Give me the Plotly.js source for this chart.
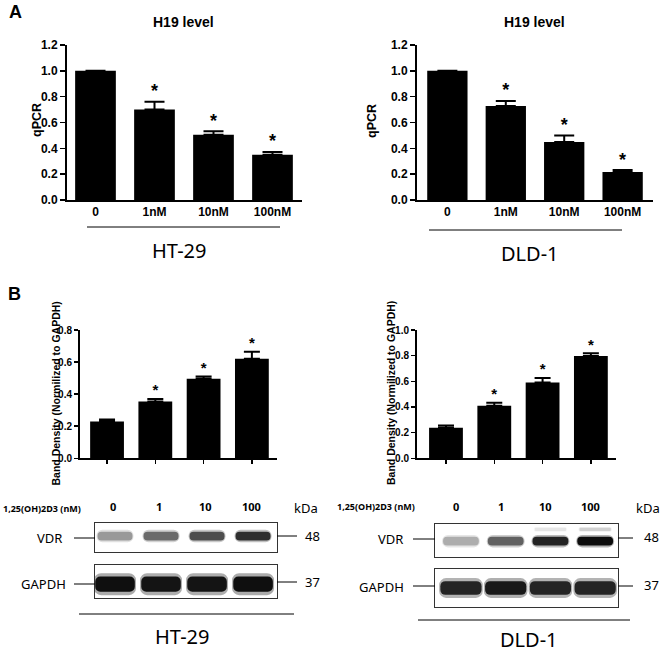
<!DOCTYPE html>
<html>
<head>
<meta charset="utf-8">
<script src="https://cdn.plot.ly/plotly-3.0.1.min.js"></script>
<style>html,body{margin:0;padding:0;background:#fff;}#chart{width:663px;height:652px;}</style>
</head>
<body>
<div id="chart"></div>
<script>
// ---------- data ----------
const doses = ['0', '1nM', '10nM', '100nM'];
const lanes = ['0', '1', '10', '100'];
const sig = ['', '*', '*', '*'];

const h19HT = [1.0, 0.70, 0.505, 0.35];
const h19HTerr = [NaN, 0.06, 0.027, 0.022];
const h19DLD = [1.0, 0.727, 0.449, 0.217];
const h19DLDerr = [NaN, 0.04, 0.05, 0.015];

const vdrHT = [0.229, 0.354, 0.496, 0.62];
const vdrHTerr = [0.013, 0.015, 0.014, 0.045];
const vdrDLD = [0.239, 0.41, 0.59, 0.797];
const vdrDLDerr = [0.016, 0.022, 0.035, 0.021];

// blot band darkness (0 = blank, 1 = black)
const bandVdrHT = [0.4, 0.58, 0.7, 0.82];
const bandGapdhHT = [0.94, 0.92, 0.92, 0.94];
const bandVdrDLD = [0.32, 0.62, 0.86, 0.95];
const bandVdrDLDupper = [0, 0, 0.1, 0.18];
const bandGapdhDLD = [0.86, 0.9, 0.86, 0.86];

// ---------- helpers ----------
const W = 663, H = 652;
const px = v => v / W;
const py = v => 1 - v / H;
const BOLD = {family: 'Liberation Sans, Arial, sans-serif', weight: 'bold', color: '#000'};
const SANS = {family: 'Noto Sans, sans-serif', color: '#000'};
const grey = d => { const g = Math.round(255 * (1 - d)); return `rgb(${g},${g},${g})`; };
const zeros = a => a.map(() => 0);

const traces = [];
function barSet(xa, ya, x, y, err, capW, starSize, barW) {
  traces.push({
    type: 'bar', x: x, y: y, xaxis: xa, yaxis: ya, width: barW,
    marker: {color: '#000', line: {width: 0}},
    error_y: {type: 'data', array: err, arrayminus: zeros(err), symmetric: false,
              color: '#000', thickness: 2, width: capW},
    hoverinfo: 'skip'
  });
  traces.push({
    type: 'scatter', mode: 'text', x: x, xaxis: xa, yaxis: ya,
    y: y.map((v, i) => v + (isNaN(err[i]) ? 0 : err[i])),
    text: sig, textposition: 'top center',
    textfont: Object.assign({}, BOLD, {size: starSize}),
    hoverinfo: 'skip', cliponaxis: false
  });
}
barSet('x', 'y', doses, h19HT, h19HTerr, 10, 18, 0.69);
barSet('x2', 'y2', doses, h19DLD, h19DLDerr, 10, 18, 0.69);
barSet('x3', 'y3', lanes, vdrHT, vdrHTerr, 8, 15, 0.70);
barSet('x4', 'y4', lanes, vdrDLD, vdrDLDerr, 8, 15, 0.70);

function bands(xa, ya, dark, center, thick, bw, halo) {
  const idx = lanes.map((_, i) => i);
  traces.push({
    type: 'bar', x: idx, xaxis: xa, yaxis: ya, width: bw * 1.06,
    y: dark.map(() => thick * 1.45), base: dark.map(() => center - thick * 0.725),
    marker: {color: dark.map(grey), opacity: halo, line: {width: 0}, cornerradius: 7},
    hoverinfo: 'skip'
  });
  traces.push({
    type: 'bar', x: idx, xaxis: xa, yaxis: ya, width: bw,
    y: dark.map(() => thick), base: dark.map(() => center - thick / 2),
    marker: {color: dark.map(grey), line: {width: 0}, cornerradius: 5},
    hoverinfo: 'skip'
  });
}
bands('x5', 'y5', bandVdrHT, 0.55, 0.3, 0.76, 0.3);
bands('x6', 'y6', bandGapdhHT, 0.42, 0.46, 0.86, 0.35);
bands('x7', 'y7', bandVdrDLD, 0.48, 0.26, 0.8, 0.3);
bands('x7', 'y7', bandVdrDLDupper, 0.84, 0.1, 0.7, 0.3);
bands('x8', 'y8', bandGapdhDLD, 0.5, 0.36, 0.92, 0.35);

// ---------- axes ----------
function xBar(d0, d1, r, labels, anchor) {
  return {domain: [px(d0), px(d1)], range: r, anchor: anchor, type: 'category',
    showline: true, linewidth: 2, linecolor: '#000', showgrid: false, zeroline: false,
    ticks: labels ? '' : 'outside', ticklen: 4, tickwidth: 1.5, tickcolor: '#000',
    showticklabels: labels, tickfont: Object.assign({}, BOLD, {size: 12}), fixedrange: true};
}
function yBar(t0, t1, r, dt, anchor, fs, tl) {
  return {domain: [py(t1), py(t0)], range: r, dtick: dt, tick0: 0, tickformat: '.1f', anchor: anchor,
    showline: true, linewidth: 2, linecolor: '#000', showgrid: false, zeroline: false,
    ticks: 'outside', ticklen: tl, tickwidth: 1.5, tickcolor: '#000',
    tickfont: Object.assign({}, BOLD, {size: fs}), fixedrange: true};
}
function xBlot(d0, d1, r, anchor) {
  return {domain: [px(d0), px(d1)], range: r, anchor: anchor, showline: true, mirror: true,
    linewidth: 1.2, linecolor: '#333', ticks: '', showticklabels: false, showgrid: false, zeroline: false, fixedrange: true};
}
function yBlot(t0, t1, anchor) {
  return {domain: [py(t1), py(t0)], range: [0, 1], anchor: anchor, showline: true, mirror: true,
    linewidth: 1.2, linecolor: '#333', ticks: '', showticklabels: false, showgrid: false, zeroline: false, fixedrange: true};
}

const layout = {
  width: W, height: H, margin: {l: 0, r: 0, t: 0, b: 0},
  paper_bgcolor: '#fff', plot_bgcolor: 'rgba(0,0,0,0)',
  showlegend: false, barmode: 'overlay', hovermode: false,
  xaxis: xBar(67, 302, [-0.483, 3.5], true, 'y'),
  yaxis: yBar(45, 200, [0, 1.2], 0.2, 'x', 12, 5),
  xaxis2: xBar(417, 653, [-0.52, 3.52], true, 'y2'),
  yaxis2: yBar(45, 200, [0, 1.2], 0.2, 'x2', 12, 5),
  xaxis3: xBar(80, 277, [-0.56, 3.52], false, 'y3'),
  yaxis3: yBar(330, 458.3, [0, 0.8], 0.2, 'x3', 10, 4),
  xaxis4: xBar(417, 616, [-0.6, 3.52], false, 'y4'),
  yaxis4: yBar(330, 458.3, [0, 1.0], 0.2, 'x4', 10, 4),
  xaxis5: xBlot(95, 277, [-0.435, 3.52], 'y5'),
  yaxis5: yBlot(523, 552, 'x5'),
  xaxis6: xBlot(95, 277, [-0.435, 3.52], 'y6'),
  yaxis6: yBlot(565, 598, 'x6'),
  xaxis7: xBlot(435, 618, [-0.58, 3.51], 'y7'),
  yaxis7: yBlot(524, 557, 'x7'),
  xaxis8: xBlot(435, 618, [-0.58, 3.51], 'y8'),
  yaxis8: yBlot(569, 607, 'x8'),
  annotations: [],
  shapes: []
};

function txt(t, x, y, font, opts) {
  layout.annotations.push(Object.assign({text: t, x: px(x), y: py(y), xref: 'paper', yref: 'paper',
    showarrow: false, xanchor: 'center', yanchor: 'middle', font: font}, opts || {}));
}
function line(x0, y0, x1, y1, w) {
  layout.shapes.push({type: 'line', xref: 'paper', yref: 'paper', x0: px(x0), y0: py(y0), x1: px(x1), y1: py(y1),
    line: {color: '#000', width: w || 1}});
}

// panel letters
txt('A', 15, 12, Object.assign({}, BOLD, {size: 18}));
txt('B', 14, 294, Object.assign({}, BOLD, {size: 18}));
// top titles
txt('H19 level', 183, 22, Object.assign({}, BOLD, {size: 14}));
txt('H19 level', 534, 22, Object.assign({}, BOLD, {size: 14}));
txt('qPCR', 37, 120, Object.assign({}, BOLD, {size: 12.5}), {textangle: -90});
txt('qPCR', 372, 121, Object.assign({}, BOLD, {size: 12.5}), {textangle: -90});
// cell line labels
line(87, 227, 280, 227); txt('HT-29', 179, 250, Object.assign({}, SANS, {size: 20}));
line(429, 230, 622, 230); txt('DLD-1', 530, 254, Object.assign({}, SANS, {size: 20}));
line(79, 614, 294, 614); txt('HT-29', 182, 636, Object.assign({}, SANS, {size: 20}));
line(418, 620, 630, 620); txt('DLD-1', 529, 639, Object.assign({}, SANS, {size: 20}), {yanchor: 'middle'});
// band density labels
const bdLabel = 'Band Density (Normilized to GAPDH)';
txt(bdLabel, 55.5, 393, Object.assign({}, BOLD, {size: 10.5}), {textangle: -90});
txt(bdLabel, 391, 393, Object.assign({}, BOLD, {size: 10.5}), {textangle: -90});
// blot headers
txt('1,25(OH)2D3 (nM)', 42, 508, Object.assign({}, SANS, {size: 9, weight: 'bold'}));
txt('1,25(OH)2D3 (nM)', 376, 507, Object.assign({}, SANS, {size: 9, weight: 'bold'}));
lanes.forEach((l, i) => {
  layout.annotations.push({text: l, x: i, xref: 'x5', y: py(507), yref: 'paper', showarrow: false,
    xanchor: 'center', yanchor: 'middle', xshift: -2, font: Object.assign({}, SANS, {size: 11, weight: 'bold'})});
  layout.annotations.push({text: l, x: i, xref: 'x7', y: py(507), yref: 'paper', showarrow: false,
    xanchor: 'center', yanchor: 'middle', xshift: -5, font: Object.assign({}, SANS, {size: 11, weight: 'bold'})});
});
txt('kDa', 306, 508, Object.assign({}, SANS, {size: 13}));
txt('kDa', 648, 508, Object.assign({}, SANS, {size: 13}));
// left blot labels + markers
txt('VDR', 64, 538, Object.assign({}, SANS, {size: 13}), {xanchor: 'right'});
txt('GAPDH', 68, 584, Object.assign({}, SANS, {size: 13}), {xanchor: 'right'});
line(74, 538, 95, 538); line(74, 584, 95, 584);
line(277, 536, 297, 536); line(277, 582, 297, 582);
txt('48', 312, 536, Object.assign({}, SANS, {size: 13}));
txt('37', 312, 582, Object.assign({}, SANS, {size: 13}));
// right blot labels + markers
txt('VDR', 405, 539, Object.assign({}, SANS, {size: 13}), {xanchor: 'right'});
txt('GAPDH', 406, 587, Object.assign({}, SANS, {size: 13}), {xanchor: 'right'});
line(413, 539, 435, 539); line(413, 586, 435, 586);
line(618, 538, 633, 538); line(618, 586, 633, 586);
txt('48', 651, 537, Object.assign({}, SANS, {size: 13}));
txt('37', 651, 585, Object.assign({}, SANS, {size: 13}));

Plotly.newPlot('chart', traces, layout, {displayModeBar: false, staticPlot: true});
</script>
</body>
</html>
